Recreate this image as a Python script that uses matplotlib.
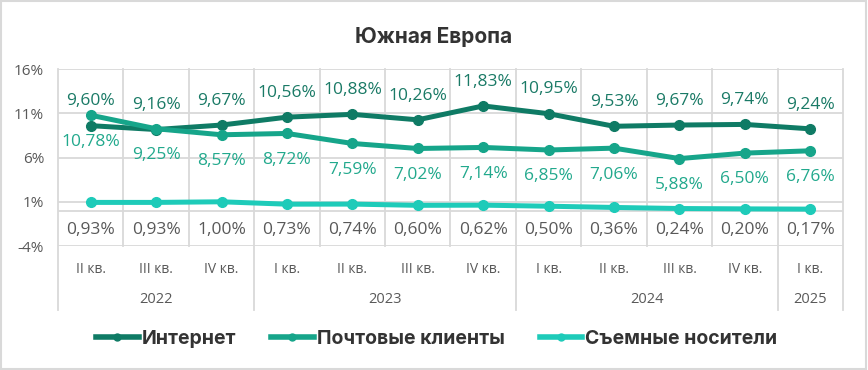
import numpy as np
import matplotlib.pyplot as plt
import matplotlib.transforms as mtransforms
from matplotlib.patches import Rectangle
from matplotlib.lines import Line2D

plt.rcParams['font.family'] = ['Open Sans', 'DejaVu Sans']

# Данные
quarters = ['II кв.', 'III кв.', 'IV кв.', 'I кв.', 'II кв.', 'III кв.', 'IV кв.',
            'I кв.', 'II кв.', 'III кв.', 'IV кв.', 'I кв.']
years = ['2022', '2023', '2024', '2025']
year_sizes = [3, 4, 4, 1]

internet = [9.60, 9.16, 9.67, 10.56, 10.88, 10.26, 11.83, 10.95, 9.53, 9.67, 9.74, 9.24]
mail = [10.78, 9.25, 8.57, 8.72, 7.59, 7.02, 7.14, 6.85, 7.06, 5.88, 6.50, 6.76]
removable = [0.93, 0.93, 1.00, 0.73, 0.74, 0.60, 0.62, 0.50, 0.36, 0.24, 0.20, 0.17]

series_names = ['Интернет', 'Почтовые клиенты', 'Съемные носители']
line_colors = ['#0f7b65', '#16a58a', '#1ecbb9']
label_colors = ['#1a7a66', '#22a98d', '#595959']

grid_c = '#d9d9d9'
n = len(quarters)
x = np.arange(n)

fig = plt.figure(figsize=(8.68, 3.70), dpi=100)
ax = fig.add_axes([0.0668, 0.335, 0.9044, 0.4785])
ax.set_xlim(-0.5, n - 0.5)
ax.set_ylim(-4, 16)
ax.set_yticks([-4, 1, 6, 11, 16])
ax.set_yticklabels(['-4%', '1%', '6%', '11%', '16%'], color='#595959', fontsize=11)
ax.tick_params(axis='y', length=0, pad=10)
ax.set_xticks([])
for s in ax.spines.values():
    s.set_visible(False)
ax.grid(axis='y', color=grid_c, lw=1.3)
ax.axhline(0, color=grid_c, lw=1.3)
ax.set_axisbelow(True)

# вертикальные линии между кварталами
trans = mtransforms.blended_transform_factory(ax.transData, ax.transAxes)
starts = np.cumsum([0] + year_sizes)
for b in range(n + 1):
    bottom = -0.36 if b in starts else 0
    ax.plot([b - 0.5, b - 0.5], [bottom, 1], color=grid_c, lw=1.3,
            transform=trans, clip_on=False, zorder=0)

for i, q in enumerate(quarters):
    ax.text(i, -0.13, q, transform=trans, ha='center', va='center',
            fontsize=10, color='#595959')
for k, y in enumerate(years):
    mid = (starts[k] + starts[k + 1] - 1) / 2
    ax.text(mid, -0.30, y, transform=trans, ha='center', va='center',
            fontsize=10.5, color='#595959')

# линии
data = [internet, mail, removable]
for vals, name, c in zip(data, series_names, line_colors):
    ax.plot(x, vals, color=c, lw=3.6, marker='o', ms=7, label=name,
            solid_capstyle='round', zorder=3)

# подписи
for i in range(n):
    ax.annotate(f"{internet[i]:.2f}%".replace('.', ','), (i, internet[i]),
                xytext=(0, 17.5), textcoords='offset points', ha='center',
                va='center', fontsize=12.5, color=label_colors[0])
    ax.annotate(f"{mail[i]:.2f}%".replace('.', ','), (i, mail[i]),
                xytext=(0, -19), textcoords='offset points', ha='center',
                va='center', fontsize=12.5, color=label_colors[1])
    ax.text(i, -2.2, f"{removable[i]:.2f}%".replace('.', ','), ha='center',
            va='center', fontsize=12.5, color=label_colors[2])

fig.text(0.5, 0.9, 'Южная Европа', ha='center', va='center',
         fontsize=15, fontweight='bold', color='#333333', family=['Inter', 'DejaVu Sans'])

handles = [Line2D([], [], color=c, lw=4, marker='o', ms=5) for c in line_colors]
leg = fig.legend(handles, series_names, loc='center', bbox_to_anchor=(0.503, 0.085),
                 ncol=3, frameon=False, handlelength=2.2, columnspacing=1.8,
                 handletextpad=0.15,
                 prop={'family': ['Inter', 'DejaVu Sans'], 'weight': 'bold', 'size': 14})
for t in leg.get_texts():
    t.set_color('#333333')

fig.patches.append(Rectangle((0.001, 0.002), 0.997, 0.995, transform=fig.transFigure,
                             fill=False, edgecolor='#d9d9d9', lw=1.5))

fig.savefig('out.png', dpi=100, facecolor='white')
